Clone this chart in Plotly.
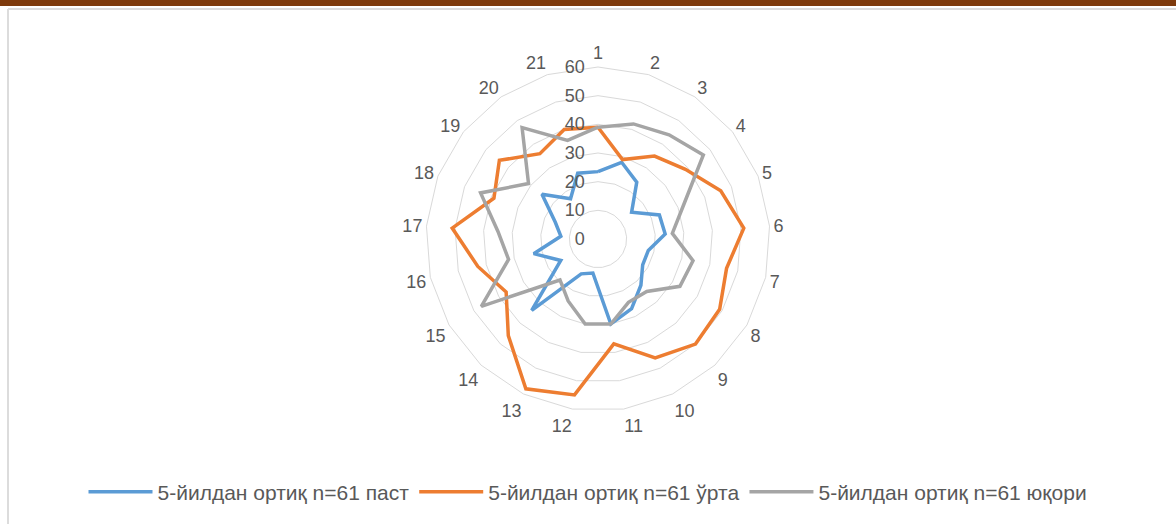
import plotly.graph_objects as go

categories = [str(i) for i in range(1, 22)]
series_names = ["5-йилдан ортиқ n=61 паст", "5-йилдан ортиқ n=61 ўрта", "5-йилдан ортиқ n=61 юқори"]
low = [23.5, 28, 24, 15, 23, 23.5, 18, 18, 22, 27, 30, 12, 13.5, 34, 15, 23, 13, 16, 25, 17, 24]
mid = [39, 29, 35, 39, 46, 51, 46, 49, 50, 46, 37, 55, 58, 46, 37, 43, 51, 39, 44, 36, 40]
high = [39, 42, 44, 47, 32, 26, 34, 33, 25, 24.5, 30, 30, 24, 19.5, 47, 32, 35, 44, 31, 47, 36]
radial_ticks = [0, 10, 20, 30, 40, 50, 60]
colors = ["#5B9BD5", "#ED7D31", "#A5A5A5"]

W, H = 1176, 524
fig = go.Figure()
for name, vals, col in zip(series_names, [low, mid, high], colors):
    fig.add_trace(go.Scatterpolar(
        r=vals + vals[:1], theta=categories + categories[:1],
        mode="lines", name=name,
        line=dict(color=col, width=3.5),
    ))

pad = "\u00a0" * 2
cx, cy, R = 598, 239, 172
fig.update_layout(
    width=W, height=H,
    margin=dict(l=0, r=0, t=0, b=0),
    paper_bgcolor="white",
    font=dict(family="Liberation Sans, Arial, sans-serif", color="#595959"),
    polar=dict(
        domain=dict(x=[(cx - R) / W, (cx + R) / W], y=[(H - cy - R) / H, (H - cy + R) / H]),
        bgcolor="white",
        gridshape="linear",
        angularaxis=dict(
            type="category", categoryarray=categories,
            rotation=90, direction="clockwise",
            showgrid=False, showline=True, linecolor="#d9d9d9", linewidth=1,
            ticks="", tickfont=dict(size=18, color="#595959"),
        ),
        radialaxis=dict(
            range=[0, 60], tickvals=radial_ticks, ticktext=[str(t) + pad for t in radial_ticks],
            angle=90, tickangle=90, side="counterclockwise",
            showline=False, ticks="", gridcolor="#d9d9d9", gridwidth=1,
            tickfont=dict(size=18, color="#595959"),
        ),
    ),
    showlegend=True,
    legend=dict(
        orientation="h", x=0.5, xanchor="center", y=(H - 492) / H, yanchor="middle",
        font=dict(size=21, color="#595959"), itemwidth=64,
    ),
    shapes=[
        dict(type="rect", xref="paper", yref="paper", x0=0, x1=1, y0=1 - 6 / H, y1=1,
             fillcolor="#7E3A0C", line=dict(width=0)),
        dict(type="line", xref="paper", yref="paper", x0=8 / W, x1=1, y0=1 - 9 / H, y1=1 - 9 / H,
             line=dict(color="#dcdcdc", width=2)),
        dict(type="line", xref="paper", yref="paper", x0=8 / W, x1=8 / W, y0=0, y1=1 - 9 / H,
             line=dict(color="#dcdcdc", width=2)),
    ],
)
fig.write_html("out.html", config={"displayModeBar": False},
               post_script="document.body.style.margin='0';document.body.style.overflow='hidden';")
